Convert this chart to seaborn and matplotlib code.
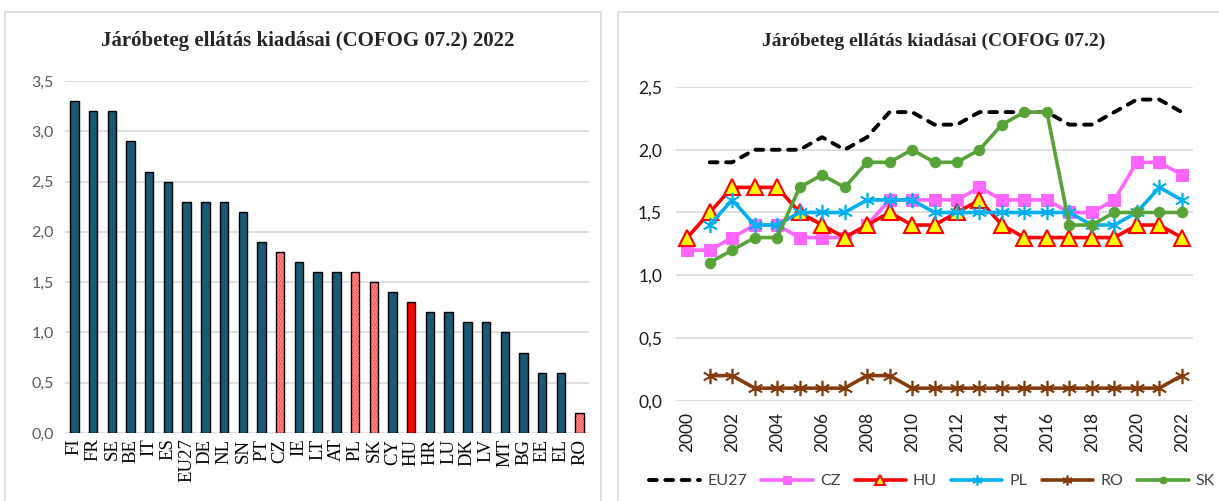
import numpy as np
import pandas as pd
import matplotlib
matplotlib.use("Agg")
import matplotlib.pyplot as plt
import seaborn as sns
from matplotlib.patches import Rectangle
from matplotlib.ticker import FuncFormatter, MultipleLocator

# ---------------- data ----------------
countries = ["FI", "FR", "SE", "BE", "IT", "ES", "EU27", "DE", "NL", "SN", "PT", "CZ", "IE", "LT",
             "AT", "PL", "SK", "CY", "HU", "HR", "LU", "DK", "LV", "MT", "BG", "EE", "EL", "RO"]
values_2022 = [3.3, 3.2, 3.2, 2.9, 2.6, 2.5, 2.3, 2.3, 2.3, 2.2, 1.9, 1.8, 1.7, 1.6,
               1.6, 1.6, 1.5, 1.4, 1.3, 1.2, 1.2, 1.1, 1.1, 1.0, 0.8, 0.6, 0.6, 0.2]
patterned = ["CZ", "PL", "SK", "RO"]
highlighted = ["HU"]

years = list(range(2000, 2023))
nan = np.nan
eu27 = [nan, 1.9, 1.9, 2.0, 2.0, 2.0, 2.1, 2.0, 2.1, 2.3, 2.3, 2.2, 2.2, 2.3, 2.3, 2.3, 2.3, 2.2, 2.2, 2.3, 2.4, 2.4, 2.3]
cz = [1.2, 1.2, 1.3, 1.4, 1.4, 1.3, 1.3, 1.3, 1.4, 1.6, 1.6, 1.6, 1.6, 1.7, 1.6, 1.6, 1.6, 1.5, 1.5, 1.6, 1.9, 1.9, 1.8]
hu = [1.3, 1.5, 1.7, 1.7, 1.7, 1.5, 1.4, 1.3, 1.4, 1.5, 1.4, 1.4, 1.5, 1.6, 1.4, 1.3, 1.3, 1.3, 1.3, 1.3, 1.4, 1.4, 1.3]
pl = [nan, 1.4, 1.6, 1.4, 1.4, 1.5, 1.5, 1.5, 1.6, 1.6, 1.6, 1.5, 1.5, 1.5, 1.5, 1.5, 1.5, 1.5, 1.4, 1.4, 1.5, 1.7, 1.6]
ro = [nan, 0.2, 0.2, 0.1, 0.1, 0.1, 0.1, 0.1, 0.2, 0.2, 0.1, 0.1, 0.1, 0.1, 0.1, 0.1, 0.1, 0.1, 0.1, 0.1, 0.1, 0.1, 0.2]
sk = [nan, 1.1, 1.2, 1.3, 1.3, 1.7, 1.8, 1.7, 1.9, 1.9, 2.0, 1.9, 1.9, 2.0, 2.2, 2.3, 2.3, 1.4, 1.4, 1.5, 1.5, 1.5, 1.5]

title_left = "Járóbeteg ellátás kiadásai (COFOG 07.2) 2022"
title_right = "Járóbeteg ellátás kiadásai (COFOG 07.2)"

# ---------------- style ----------------
sns.set_style("white")
plt.rcParams["font.family"] = ["Lato", "DejaVu Sans"]
plt.rcParams["hatch.linewidth"] = 1.6

W, H = 1219, 501
fig = plt.figure(figsize=(W / 100, H / 100), dpi=100)

def fx(px):
    return px / W

def fy(py):
    return 1 - py / H

comma = FuncFormatter(lambda v, p: f"{v:.1f}".replace(".", ","))

# panel borders
for x0, x1 in [(5, 601), (618, 1230)]:
    fig.add_artist(Rectangle((fx(x0), -0.02), fx(x1) - fx(x0), fy(12) + 0.02,
                             transform=fig.transFigure, fill=False,
                             edgecolor="#d9d9d9", linewidth=1.2))

# ---------------- left: bar chart ----------------
ax1 = fig.add_axes([fx(65), fy(433), fx(589) - fx(65), fy(81) - fy(433)])
df = pd.DataFrame({"country": countries, "value": values_2022})
bar_color = "#1b5876"
palette = {c: ("#ff0000" if c in highlighted else bar_color) for c in countries}
sns.barplot(data=df, x="country", y="value", hue="country", palette=palette,
            legend=False, dodge=False, width=0.45, edgecolor="black",
            linewidth=1.0, saturation=1, ax=ax1)

for p in list(ax1.patches):
    idx = int(round(p.get_x() + p.get_width() / 2))
    if 0 <= idx < len(countries) and countries[idx] in patterned:
        p.set_facecolor("#ffd0d0")
        p.set_hatch("......")
        p.set_edgecolor("#ff2a2a")
        p.set_linewidth(0)
        ax1.add_patch(Rectangle((p.get_x(), p.get_y()), p.get_width(), p.get_height(),
                                fill=False, edgecolor="black", linewidth=1.0, zorder=3))

ax1.set_xlim(-0.5, len(countries) - 0.5)
ax1.set_ylim(0, 3.5)
ax1.yaxis.set_major_locator(MultipleLocator(0.5))
ax1.yaxis.set_major_formatter(comma)
ax1.grid(axis="y", color="#d9d9d9", linewidth=1.2)
ax1.set_axisbelow(True)
for s in ax1.spines.values():
    s.set_visible(False)
ax1.set_xlabel("")
ax1.set_ylabel("")
ax1.tick_params(axis="y", length=0, pad=8, labelsize=11.5, labelcolor="#595959")
ax1.tick_params(axis="x", length=0, pad=4)
for lab in ax1.get_xticklabels():
    lab.set_rotation(90)
    lab.set_fontfamily("Liberation Serif")
    lab.set_fontsize(13.5)
    lab.set_color("black")

fig.text(fx(308), fy(41), title_left, ha="center", va="center",
         fontfamily="Liberation Serif", fontweight="bold", fontsize=15)

# ---------------- right: line chart ----------------
ax2 = fig.add_axes([fx(676), fy(400.7), fx(1193) - fx(676), fy(87) - fy(400.7)])
x_idx = np.arange(len(years))
star = (6, 2, 0)
series = [
    ("EU27", eu27, dict(color="black", linewidth=2.8, linestyle=(0, (2.0, 2.2)),
                        dash_capstyle="round")),
    ("CZ", cz, dict(color="#ff66ff", linewidth=2.6, marker="s", markersize=8,
                    markerfacecolor="#ff66ff", markeredgecolor="#ff66ff")),
    ("HU", hu, dict(color="#ff0000", linewidth=2.6, marker="^", markersize=11,
                    markerfacecolor="#ffff00", markeredgecolor="#ff0000", markeredgewidth=1.5)),
    ("PL", pl, dict(color="#00b0f0", linewidth=2.6, marker=star, markersize=11,
                    markeredgecolor="#00b0f0", markeredgewidth=1.2)),
    ("RO", ro, dict(color="#843c0c", linewidth=2.6, marker=star, markersize=11,
                    markeredgecolor="#843c0c", markeredgewidth=1.2)),
    ("SK", sk, dict(color="#57a337", linewidth=2.6, marker="o", markersize=7.5,
                    markerfacecolor="#57a337", markeredgecolor="#57a337")),
]
for name, vals, kw in series:
    sns.lineplot(x=x_idx, y=vals, ax=ax2, label=name, solid_joinstyle="round", **kw)

if ax2.get_legend() is not None:
    ax2.get_legend().remove()

ax2.set_xlim(-0.5, len(years) - 0.5)
ax2.set_ylim(0, 2.5)
ax2.yaxis.set_major_locator(MultipleLocator(0.5))
ax2.yaxis.set_major_formatter(comma)
ax2.set_xticks(x_idx[::2])
ax2.set_xticklabels([str(y) for y in years[::2]], rotation=90)
ax2.grid(axis="y", color="#d9d9d9", linewidth=1.2)
ax2.grid(axis="x", visible=False)
ax2.set_axisbelow(True)
for s in ax2.spines.values():
    s.set_visible(False)
ax2.set_xlabel("")
ax2.set_ylabel("")
ax2.tick_params(axis="y", length=0, pad=10, labelsize=12.5, labelcolor="#1a1a1a")
ax2.tick_params(axis="x", length=0, pad=8, labelsize=12.5, labelcolor="#1a1a1a")

fig.text(fx(934), fy(41), title_right, ha="center", va="center",
         fontfamily="Liberation Serif", fontweight="bold", fontsize=14)

handles, labels = ax2.get_legend_handles_labels()
fig.legend(handles, labels, loc="center", bbox_to_anchor=(fx(932), fy(481)),
           ncol=6, frameon=False, handlelength=3.2, columnspacing=0.9,
           handletextpad=0.45, numpoints=1, fontsize=11.5, labelcolor="#404040",
           borderpad=0.2, markerscale=0.65)

fig.savefig("out.png", dpi=100)
